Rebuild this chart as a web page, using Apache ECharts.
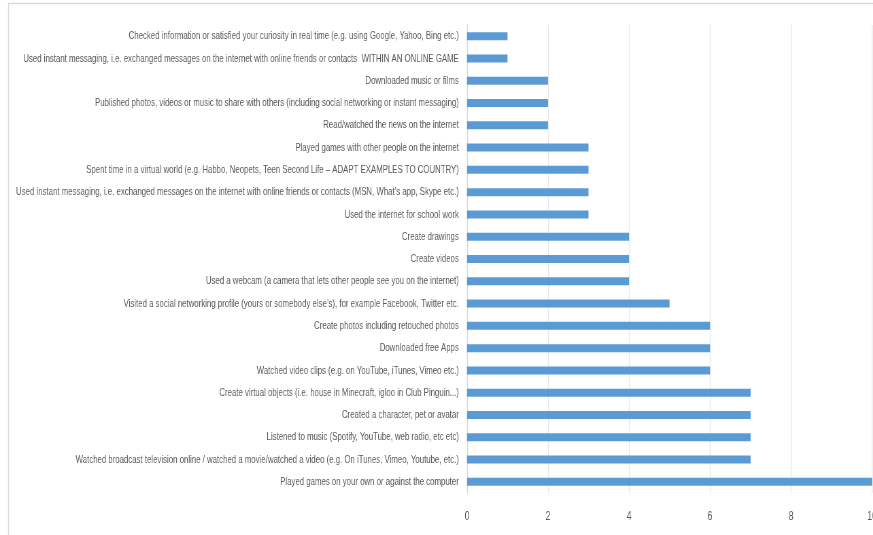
<!DOCTYPE html>
<html>
<head>
<meta charset="utf-8">
<script src="https://cdn.jsdelivr.net/npm/echarts@6/dist/echarts.min.js"></script>
<style>
  body { margin: 0; background: #fff; overflow: hidden; }
  /* the source chart is a horizontally squeezed Excel picture, so squeeze the whole chart */
  #main { width: 1284px; height: 535px; transform: scaleX(0.68); transform-origin: 0 0; }
</style>
</head>
<body>
<div id="main"></div>
<script type="text/javascript">
	var categories = [
		'Checked information or satisfied your curiosity in real time (e.g. using Google, Yahoo, Bing etc.)',
		'Used instant messaging, i.e. exchanged messages on the internet with online friends or contacts  WITHIN AN ONLINE GAME',
		'Downloaded music or films',
		'Published photos, videos or music to share with others (including social networking or instant messaging)',
		'Read/watched the news on the internet',
		'Played games with other people on the internet',
		'Spent time in a virtual world (e.g. Habbo, Neopets, Teen Second Life \u2013 ADAPT EXAMPLES TO COUNTRY)',
		'Used instant messaging, i.e. exchanged messages on the internet with online friends or contacts (MSN, What\u2019s app, Skype etc.)',
		'Used the internet for school work',
		'Create drawings',
		'Create videos',
		'Used a webcam (a camera that lets other people see you on the internet)',
		'Visited a social networking profile (yours or somebody else\u2019s), for example Facebook, Twitter etc.',
		'Create photos including retouched photos',
		'Downloaded free Apps',
		'Watched video clips (e.g. on YouTube, iTunes, Vimeo etc.)',
		'Create virtual objects (i.e. house in Minecraft, igloo in Club Pinguin...)',
		'Created a character, pet or avatar',
		'Listened to music (Spotify, YouTube, web radio, etc etc)',
		'Watched broadcast television online / watched a movie/watched a video (e.g. On iTunes, Vimeo, Youtube, etc.)',
		'Played games on your own or against the computer'
	];
	var values = [1, 1, 2, 2, 2, 3, 3, 3, 3, 4, 4, 4, 5, 6, 6, 6, 7, 7, 7, 7, 10];

	var sx = 0.68; // horizontal squeeze of the page
	var font = '"Liberation Sans", Arial, sans-serif';

	var chart = echarts.init(document.getElementById('main'));
	chart.setOption({
		animation: false,
		graphic: [{
			type: 'polyline',
			shape: { points: [[8.5 / sx, 535], [8.5 / sx, 3.5], [1284, 3.5]] },
			style: { stroke: '#d9d9d9', fill: null, lineWidth: 1.4 }
		}],
		grid: {
			left: 467 / sx,
			right: 1 / sx,
			top: 25,
			bottom: 42,
			containLabel: false,
			outerBoundsMode: 'none'
		},
		xAxis: {
			type: 'value',
			min: 0,
			max: 10,
			interval: 2,
			axisLine: { show: false },
			axisTick: { show: false },
			axisLabel: { color: '#595959', fontFamily: font, fontSize: 13, margin: 17 },
			splitLine: { lineStyle: { color: '#e8e8e8', width: 1.4 } }
		},
		yAxis: {
			type: 'category',
			inverse: true,
			data: categories,
			axisLine: { show: true, lineStyle: { color: '#d9d9d9', width: 1.4 } },
			axisTick: { show: false },
			axisLabel: { color: '#595959', fontFamily: font, fontSize: 11.5, margin: 12, interval: 0 }
		},
		series: [{
			type: 'bar',
			data: values,
			barWidth: 8,
			itemStyle: { color: '#5b9bd5' }
		}]
	});
</script>
</body>
</html>
